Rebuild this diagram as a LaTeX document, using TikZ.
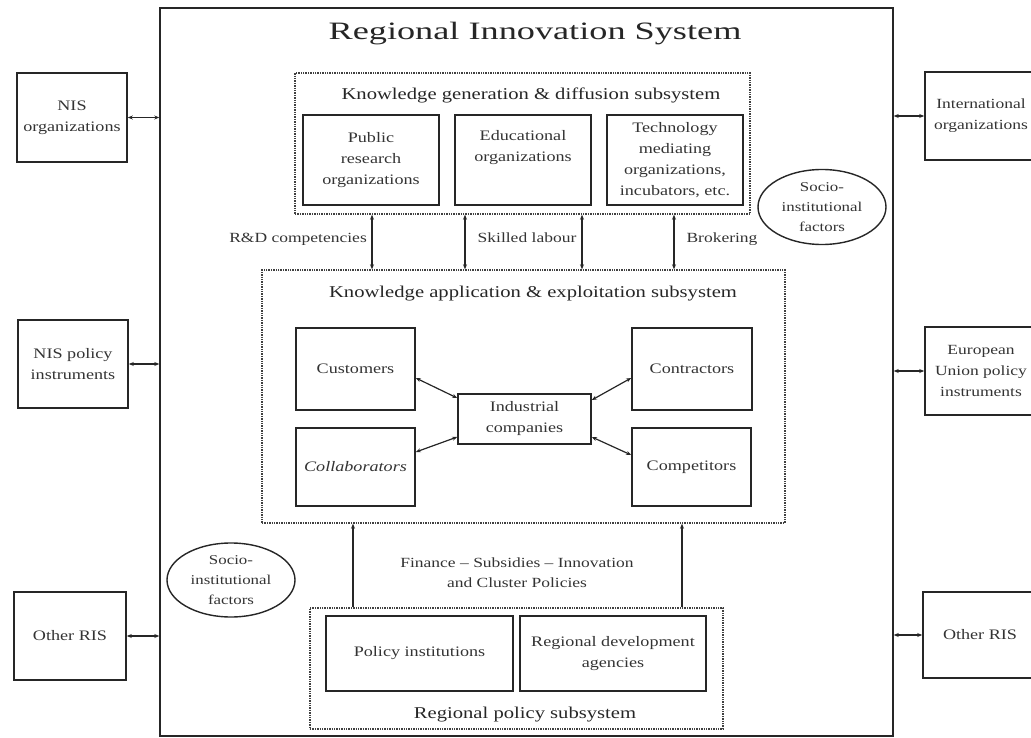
\documentclass[tikz,border=0pt]{standalone}
\usepackage{fontspec}
\setmainfont[FakeStretch=1.25]{Liberation Serif}
\newfontfamily\titlefont[FakeStretch=1.45]{Liberation Serif}
\usetikzlibrary{calc,arrows.meta,shapes.geometric}
\begin{document}
\begin{tikzpicture}[x=1pt,y=-1pt,
 box/.style={draw=black!85, line width=1.6pt, align=center, inner sep=0pt, font=\fontsize{14.5}{21}\selectfont, text=black!80},
 subsys/.style={draw=black!75, line width=1.4pt, densely dotted, inner sep=0pt},
 outer/.style={draw=black!85, line width=1.4pt, inner sep=0pt},
 oval/.style={ellipse, draw=black!85, line width=1.4pt, inner sep=0pt, align=center, font=\fontsize{13.5}{20}\selectfont, text=black!80},
 lbl/.style={font=\fontsize{14}{20}\selectfont, text=black!80, align=center, inner sep=0pt},
 subtitle/.style={font=\fontsize{16.5}{20}\selectfont, text=black!85, inner sep=0pt, anchor=base},
 link/.style={draw=black!85, line width=1.2pt, {Stealth[length=5pt,width=4pt]}-{Stealth[length=5pt,width=4pt]}},
 uplink/.style={draw=black!85, line width=1.2pt, -{Stealth[length=5pt,width=4pt]}},
]
\useasboundingbox (0,0) rectangle (1031,738);
\clip (0,0) rectangle (1031,738);

% outer system
\node[outer, minimum width=733, minimum height=728] (ris) at (526.5,372) {};
\node[subtitle, font=\titlefont\fontsize{25}{28}\selectfont] (title) at (535,40) {Regional Innovation System};

% knowledge generation subsystem
\node[subsys, minimum width=455, minimum height=141] (kg) at (522.5,143.5) {};
\node[subtitle] (kgt) at (531,100) {Knowledge generation \& diffusion subsystem};
\node[box, minimum width=136, minimum height=90] (pub) at (371,160) {Public\\research\\organizations};
\node[box, minimum width=136, minimum height=90] (edu) at (523,160) {Educational\\organizations\\\strut};
\node[box, minimum width=136, minimum height=90] (tech) at (675,160) {Technology\\mediating\\organizations,\\incubators, etc.};

\node[oval, minimum width=128, minimum height=75] (sif1) at (822,207) {Socio-\\institutional\\factors};

% knowledge application subsystem
\node[subsys, minimum width=523, minimum height=253] (ka) at (523.5,396.5) {};
\node[subtitle] (kat) at (533,298) {Knowledge application \& exploitation subsystem};
\node[box, minimum width=119, minimum height=82] (cust) at (355.5,369) {Customers};
\node[box, minimum width=119, minimum height=78] (coll) at (355.5,467) {\itshape Collaborators};
\node[box, minimum width=133, minimum height=50] (ind) at (524.5,419) {Industrial\\companies};
\node[box, minimum width=120, minimum height=82] (contr) at (692,369) {Contractors};
\node[box, minimum width=119, minimum height=78] (comp) at (691.5,467) {Competitors};

\draw[link] ($(cust.east)+(0,9)$) -- ($(ind.west)+(0,-21)$);
\draw[link] ($(coll.east)+(0,-15)$) -- ($(ind.west)+(0,18)$);
\draw[link] ($(contr.west)+(0,9)$) -- ($(ind.east)+(0,-19)$);
\draw[link] ($(comp.west)+(0,-12)$) -- ($(ind.east)+(0,18)$);

% links between subsystems
\coordinate (v1) at (372,0);
\coordinate (v2) at (465,0);
\coordinate (v3) at (582,0);
\coordinate (v4) at (674,0);
\draw[link] (kg.south -| v1) -- (ka.north -| v1);
\draw[link] (kg.south -| v2) -- (ka.north -| v2);
\draw[link] (kg.south -| v3) -- (ka.north -| v3);
\draw[link] (kg.south -| v4) -- (ka.north -| v4);
\node[lbl, anchor=base east] (rd) at (367,243) {R\&D competencies};
\node[lbl, anchor=base] (skl) at (527,243) {Skilled labour};
\node[lbl, anchor=base] (brk) at (722,243) {Brokering};

% regional policy subsystem
\node[subsys, minimum width=413, minimum height=121] (rp) at (516.5,668.5) {};
\node[subtitle] (rpt) at (525,718) {Regional policy subsystem};
\node[box, minimum width=187, minimum height=75] (pol) at (419.5,653.5) {Policy institutions};
\node[box, minimum width=186, minimum height=75] (rda) at (613,653.5) {Regional development\\agencies};

\coordinate (u1) at (353,0);
\coordinate (u2) at (682,0);
\draw[uplink] (rp.north -| u1) -- (ka.south -| u1);
\draw[uplink] (rp.north -| u2) -- (ka.south -| u2);
\node[lbl] (fin) at (517,573) {Finance -- Subsidies -- Innovation\\and Cluster Policies};

\node[oval, minimum width=128, minimum height=74] (sif2) at (231,580) {Socio-\\institutional\\factors};

% outside boxes, left
\node[box, minimum width=110, minimum height=89] (nisorg) at (72,117.5) {NIS\\organizations};
\node[box, minimum width=110, minimum height=88] (nispol) at (73,364) {NIS policy\\instruments};
\node[box, minimum width=112, minimum height=88] (risl) at (70,636) {Other RIS};
\draw[link] (nisorg.east) -- (nisorg.east -| ris.west);
\draw[link] (nispol.east) -- (nispol.east -| ris.west);
\draw[link] (risl.east) -- (risl.east -| ris.west);

% outside boxes, right (cut by the picture's edge)
\node[box, minimum width=112, minimum height=88, font=\fontsize{14}{21}\selectfont] (intl) at (981,116) {International\\organizations};
\node[box, minimum width=112, minimum height=88, font=\fontsize{14}{21}\selectfont] (eu) at (981,371) {European\\Union policy\\instruments};
\node[box, minimum width=114, minimum height=86] (risr) at (980,635) {Other RIS};
\draw[link] (ris.east |- intl.west) -- (intl.west);
\draw[link] (ris.east |- eu.west) -- (eu.west);
\draw[link] (ris.east |- risr.west) -- (risr.west);
\end{tikzpicture}
\end{document}
